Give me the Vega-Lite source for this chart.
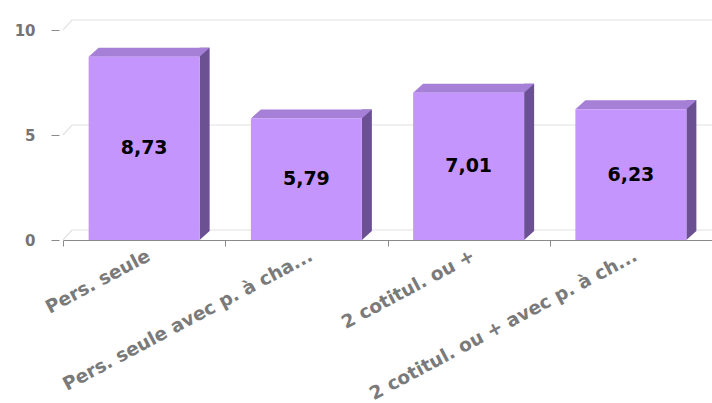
{
  "$schema": "https://vega.github.io/schema/vega-lite/v6.json",
  "autosize": "none",
  "width": 649,
  "height": 210,
  "padding": {"left": 63, "top": 30, "right": 0, "bottom": 163},
  "background": "white",
  "config": {
    "view": {"stroke": null},
    "locale": {"number": {"decimal": ",", "thousands": " ", "grouping": [3], "currency": ["", " €"]}}
  },
  "data": {
    "values": [
      {"cat": "Pers. seule", "value": 8.73},
      {"cat": "Pers. seule avec p. à cha...", "value": 5.79},
      {"cat": "2 cotitul. ou +", "value": 7.01},
      {"cat": "2 cotitul. ou + avec p. à ch...", "value": 6.23}
    ]
  },
  "encoding": {
    "x": {
      "field": "cat", "type": "nominal", "sort": null,
      "scale": {"paddingInner": 0, "paddingOuter": 0},
      "axis": {
        "title": null, "labelAngle": -28, "tickBand": "extent", "tickSize": 6,
        "labelPadding": 0, "domainColor": "#8a8a8a", "tickColor": "#8a8a8a",
        "labelFont": "DejaVu Sans", "labelFontWeight": "bold", "labelFontSize": 18.5,
        "labelColor": "#7a7a7a", "labelLimit": 400
      }
    }
  },
  "layer": [
    {
      "data": {"values": [{"v": 0}, {"v": 5}, {"v": 10}]},
      "mark": {"type": "point", "shape": "M-1.352,0 L-1.202,-0.1667 L9.6,-0.1667", "size": 14400, "filled": false, "stroke": "#e2e2e2", "strokeWidth": 1.2, "opacity": 1},
      "encoding": {
        "x": {"datum": "Pers. seule", "type": "nominal"},
        "y": {"field": "v", "type": "quantitative", "scale": {"domain": [0, 10], "nice": false},
          "axis": {"title": null, "grid": false, "domain": false, "values": [0, 5, 10], "tickSize": 8, "offset": 4,
            "tickColor": "#8a8a8a", "labelPadding": 16, "labelFont": "DejaVu Sans", "labelFontWeight": "bold",
            "labelFontSize": 15, "labelColor": "#747474"}}
      }
    },
    {
      "mark": {"type": "bar", "width": 10, "xOffset": 60.5, "yOffset": -9, "y2Offset": -9, "color": "#6b5192"},
      "encoding": {"y": {"field": "value", "type": "quantitative"}}
    },
    {
      "mark": {"type": "point", "shape": "M0.925,0 L0.925,-0.15 L1.0917,-0.15 Z", "size": 14400, "filled": true, "color": "#6b5192", "opacity": 1, "strokeWidth": 0},
      "encoding": {"y": {"datum": 0, "type": "quantitative"}}
    },
    {
      "mark": {"type": "point", "shape": "M-0.925,0 L-0.7583,-0.15 L1.0917,-0.15 L0.925,0 Z", "size": 14400, "filled": true, "color": "#a67fd6", "opacity": 1, "strokeWidth": 0},
      "encoding": {"y": {"field": "value", "type": "quantitative"}}
    },
    {
      "mark": {"type": "bar", "width": 111, "color": "#c495fd"},
      "encoding": {"y": {"field": "value", "type": "quantitative"}}
    },
    {
      "transform": [{"calculate": "datum.value / 2", "as": "mid"}],
      "mark": {"type": "text", "font": "DejaVu Sans", "fontWeight": "bold", "fontSize": 19, "color": "#000000", "baseline": "middle"},
      "encoding": {
        "y": {"field": "mid", "type": "quantitative"},
        "text": {"field": "value", "type": "quantitative", "format": ".2f"}
      }
    }
  ]
}
